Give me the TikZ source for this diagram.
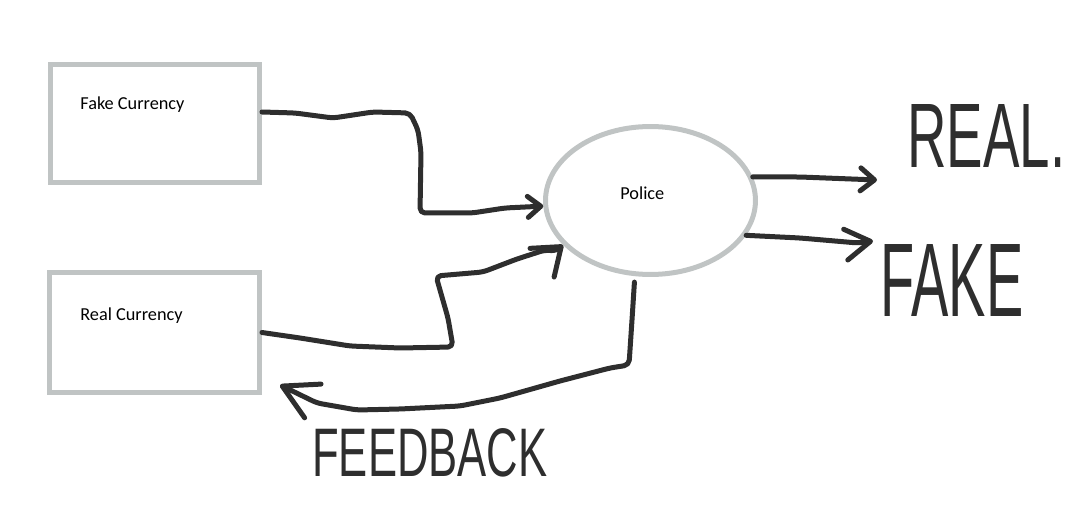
\documentclass[tikz,border=0pt]{standalone}
\usepackage{graphicx}
\usepackage{fontspec}
\setmainfont{Carlito}
\newfontfamily\handfont{Liberation Sans}
\usetikzlibrary{arrows.meta,shapes.geometric}
\definecolor{boxgray}{RGB}{192,196,196}
\definecolor{inkc}{RGB}{46,46,46}
\tikzset{
  boxnode/.style={draw=boxgray, line width=0.1cm, minimum width=4.18cm, minimum height=2.36cm, inner sep=0pt},
  lbl/.style={font=\fontsize{10.4pt}{12pt}\selectfont, anchor=base west, inner sep=0pt, text=black},
  inkline/.style={draw=inkc, line width=0.1cm, line cap=round, line join=round, rounded corners=0.1cm},
  hand/.style={anchor=base west, inner sep=0pt, text=inkc, font=\handfont},
}
\begin{document}
\begin{tikzpicture}[x=0.02cm,y=-0.02cm]
\useasboundingbox (0,0) rectangle (1090,520);
% boxes and ellipse
\node[boxnode] (fake) at (155,123.5) {};
\node[boxnode, minimum width=4.2cm, minimum height=2.4cm] (real) at (154.5,332.5) {};
\node[ellipse, draw=boxgray, line width=0.1cm, minimum width=4.2cm, minimum height=2.96cm, inner sep=0pt] (police) at (650.5,200.5) {};
% labels
\node[lbl] (fakelbl) at (80,110) {Fake Currency};
\node[lbl] (reallbl) at (80,321) {Real Currency};
\node[lbl] (policelbl) at (620,200) {Police};
% handwritten words
\node[hand] (realtxt) at (907,168) {\resizebox{3.16cm}{1.26cm}{REAL.}};
\node[hand] (faketxt) at (880,317) {\resizebox{2.86cm}{1.44cm}{FAKE}};
\node[hand] (fbtxt) at (312,477) {\resizebox{4.7cm}{0.96cm}{FEEDBACK}};
% free ends
\coordinate (realtip) at (877,180);
\coordinate (faketip) at (873,241);
\coordinate (fbtip) at (280,385);
% connectors
\draw[inkline,-{Straight Barb[round,length=0.26cm,width=0.42cm]}]
  ([yshift=0.23cm]fake.east) -- (295,113) -- (333,118) -- (373,112) -- (410,113)
  -- (418,130) -- (421,152) -- (420,213) -- (472,213) -- (505,208) -- (police.183);
\draw[inkline,-{Straight Barb[round,length=0.5cm,width=0.75cm]}]
  (real.east) -- (300,338) -- (350,346) -- (400,348) -- (453,347) -- (448,318)
  -- (436,276) -- (483,272) -- (517,259) -- (545,250) -- (556,251) -- (police.207);
\draw[inkline,-{Straight Barb[round,length=0.28cm,width=0.46cm]}]
  (police.13) -- (800,177) -- (realtip);
\draw[inkline,-{Straight Barb[round,length=0.5cm,width=0.62cm]}]
  (police.340) -- (800,238) -- (858,243) -- (faketip);
\draw[inkline,-{Straight Barb[round,length=0.68cm,width=0.75cm]}]
  ([yshift=-0.12cm]police.258) -- (632,320) -- (629,365) -- (610,368) -- (560,381)
  -- (500,398) -- (460,406) -- (400,409) -- (357,410) -- (317,403) -- (fbtip);
\end{tikzpicture}
\end{document}
